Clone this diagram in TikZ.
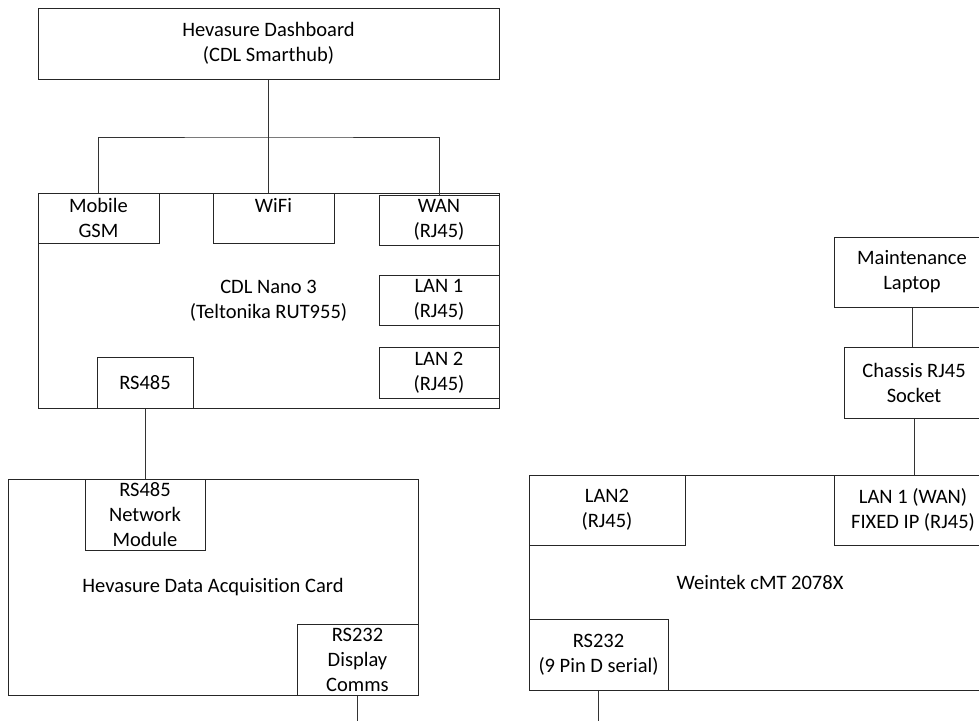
\documentclass[tikz,border=0pt]{standalone}
\usepackage{fontspec}
\setmainfont{Carlito}[Ligatures=NoCommon]
\begin{document}
\begin{tikzpicture}[x=1pt,y=-1pt,
  box/.style={draw=black!85, line width=1pt, align=center, inner sep=0pt,
    font=\fontsize{20.5}{25}\selectfont},
  wire/.style={draw=black!80, line width=1pt}]
\useasboundingbox (0,0) rectangle (979,720);
\clip (0,0) rectangle (979,720);
% main boxes
\node[box, minimum width=461, minimum height=71] (dash) at (268.5,43.5) {Hevasure Dashboard\\(CDL Smarthub)};
\node[box, minimum width=461, minimum height=215] (nano) at (268.5,300.5) {CDL Nano 3\\(Teltonika RUT955)};
\node[box, minimum width=410, minimum height=216] (daq) at (213,587) {Hevasure Data Acquisition Card};
\node[box, minimum width=156, minimum height=70] (laptop) at (912,272) {Maintenance\\Laptop};
\node[box, minimum width=140, minimum height=71] (chassis) at (914,382.5) {Chassis RJ45\\Socket};
\node[box, minimum width=462, minimum height=215] (wein) at (760,582.5) {Weintek cMT 2078X};
% sub boxes
\node[box, minimum width=121, minimum height=50] (gsm) at (98.5,218) {Mobile\\GSM};
\node[box, minimum width=121, minimum height=50] (wifi) at (273.5,218) {WiFi\\\phantom{X}};
\node[box, minimum width=120, minimum height=50] (wan) at (439,220) {WAN\\(RJ45)};
\node[box, minimum width=120, minimum height=50] (lan1) at (439,300) {LAN 1\\(RJ45)};
\node[box, minimum width=120, minimum height=51] (lan2) at (439,372.5) {LAN 2\\(RJ45)};
\node[box, minimum width=96, minimum height=51] (rs485) at (145,382.5) {RS485};
\node[box, minimum width=120, minimum height=71] (netmod) at (145,514.5) {RS485\\Network\\Module};
\node[box, minimum width=121, minimum height=71] (rs232dc) at (357.5,659.5) {RS232\\Display\\Comms};
\node[box, minimum width=156, minimum height=70] (lan2w) at (607,510) {LAN2\\(RJ45)};
\node[box, minimum width=158, minimum height=70] (lan1w) at (913,510) {LAN 1 (WAN)\\FIXED IP (RJ45)};
\node[box, minimum width=139, minimum height=71] (rs232w) at (598.5,654.5) {RS232\\(9 Pin D serial)};
% connectors
\coordinate (bar) at (269,137);
\coordinate (end1) at (357.5,725);
\coordinate (end2) at (598.5,725);
\draw[wire] (dash.south) -- (dash.south |- wifi.north);
\draw[wire] (gsm.north) |- (bar) -| (wan.north);
\draw[wire] (rs485.south) -- (netmod.north);
\draw[wire] (rs232dc.south) -- (end1);
\draw[wire] (laptop.south) -- (laptop.south |- chassis.north);
\draw[wire] (chassis.south) -- (chassis.south |- lan1w.north);
\draw[wire] (rs232w.south) -- (end2);
\end{tikzpicture}
\end{document}
